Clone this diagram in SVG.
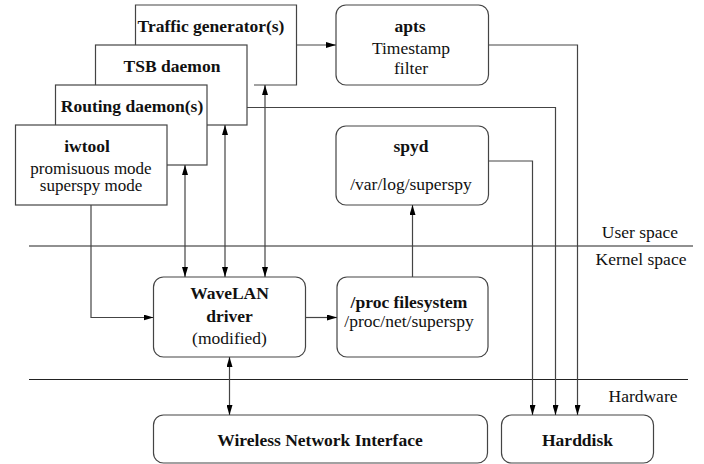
<svg xmlns="http://www.w3.org/2000/svg" width="704" height="464" viewBox="0 0 704 464">
<defs>
<marker id="ah" viewBox="0 0 10 6" refX="10" refY="3" markerWidth="10" markerHeight="6" markerUnits="userSpaceOnUse" orient="auto-start-reverse">
<path d="M0,0 L10,3 L0,6 z" fill="#000"/>
</marker>
<style>
.box{fill:#fff;stroke:#444;stroke-width:1.2}
.edge{fill:none;stroke:#444;stroke-width:1.2}
.sep{stroke:#222;stroke-width:1.2}
text{font-size:17.5px;fill:#111;text-anchor:middle}
.b{font-weight:bold}
.s{font-size:17px}
</style>
</defs>
<rect width="704" height="464" fill="#fff"/>
<g font-family="'Liberation Serif', 'Times New Roman', serif">
<g id="separators">
<line class="sep" x1="29" y1="246" x2="693" y2="246"/>
<line class="sep" x1="29" y1="379.5" x2="688" y2="379.5"/>
<text x="640" y="238">User space</text>
<text x="641" y="265">Kernel space</text>
<text x="643" y="401.5">Hardware</text>
</g>
<g id="traffic">
<path class="box" d="M135.5,45 V5 H296.5 V85 H254" />
<text class="b" x="211" y="32">Traffic generator(s)</text>
</g>
<g id="tsb">
<rect class="box" x="95.5" y="45" width="151.5" height="80"/>
<text class="b" x="172" y="72">TSB daemon</text>
</g>
<g id="routing">
<rect class="box" x="55.5" y="85" width="151.5" height="80"/>
<text class="b" x="132" y="112">Routing daemon(s)</text>
</g>
<g id="iwtool">
<rect class="box" x="15.5" y="125" width="151.5" height="80"/>
<text class="b" x="87" y="152">iwtool</text>
<text class="s" x="91" y="173.5">promisuous mode</text>
<text class="s" x="91" y="190.5">superspy mode</text>
</g>
<g id="apts">
<rect class="box" x="336" y="5" width="152.5" height="80" rx="10"/>
<text class="b" x="410" y="32">apts</text>
<text x="411" y="54">Timestamp</text>
<text x="411" y="74">filter</text>
</g>
<g id="spyd">
<rect class="box" x="336" y="126" width="152.5" height="79" rx="10"/>
<text class="b" x="411" y="152">spyd</text>
<text x="411" y="189.5">/var/log/superspy</text>
</g>
<g id="wavelan">
<rect class="box" x="153.5" y="277" width="152" height="80" rx="10"/>
<text class="b" x="229.5" y="298.5">WaveLAN</text>
<text class="b" x="229.5" y="321.5">driver</text>
<text x="229.5" y="343.5">(modified)</text>
</g>
<g id="procfs">
<rect class="box" x="337" y="277" width="151" height="80" rx="10"/>
<text class="b" x="409" y="307.5">/proc filesystem</text>
<text x="409" y="327">/proc/net/superspy</text>
</g>
<g id="wni">
<rect class="box" x="153.5" y="415" width="334" height="48" rx="10"/>
<text class="b" x="320" y="446">Wireless Network Interface</text>
</g>
<g id="harddisk">
<rect class="box" x="501.5" y="415" width="152" height="48" rx="10"/>
<text class="b" x="577.5" y="446">Harddisk</text>
</g>
</g>
<g id="connectors">
<line class="edge" x1="296.5" y1="45" x2="336" y2="45" marker-end="url(#ah)"/>
<line class="edge" x1="185" y1="165" x2="185" y2="277" marker-start="url(#ah)" marker-end="url(#ah)"/>
<line class="edge" x1="225" y1="125" x2="225" y2="277" marker-start="url(#ah)" marker-end="url(#ah)"/>
<line class="edge" x1="265" y1="85" x2="265" y2="277" marker-start="url(#ah)" marker-end="url(#ah)"/>
<path class="edge" d="M91,205 V317.5 H153.5" marker-end="url(#ah)"/>
<line class="edge" x1="305.5" y1="317.5" x2="337" y2="317.5" marker-end="url(#ah)"/>
<line class="edge" x1="412.5" y1="277" x2="412.5" y2="205" marker-end="url(#ah)"/>
<line class="edge" x1="229.5" y1="357" x2="229.5" y2="415" marker-start="url(#ah)" marker-end="url(#ah)"/>
<path class="edge" d="M488.5,161 H532.5 V415" marker-end="url(#ah)"/>
<path class="edge" d="M247,107.5 H555.5 V415" marker-end="url(#ah)"/>
<path class="edge" d="M488.5,45 H577.5 V415" marker-end="url(#ah)"/>
</g>
</svg>
